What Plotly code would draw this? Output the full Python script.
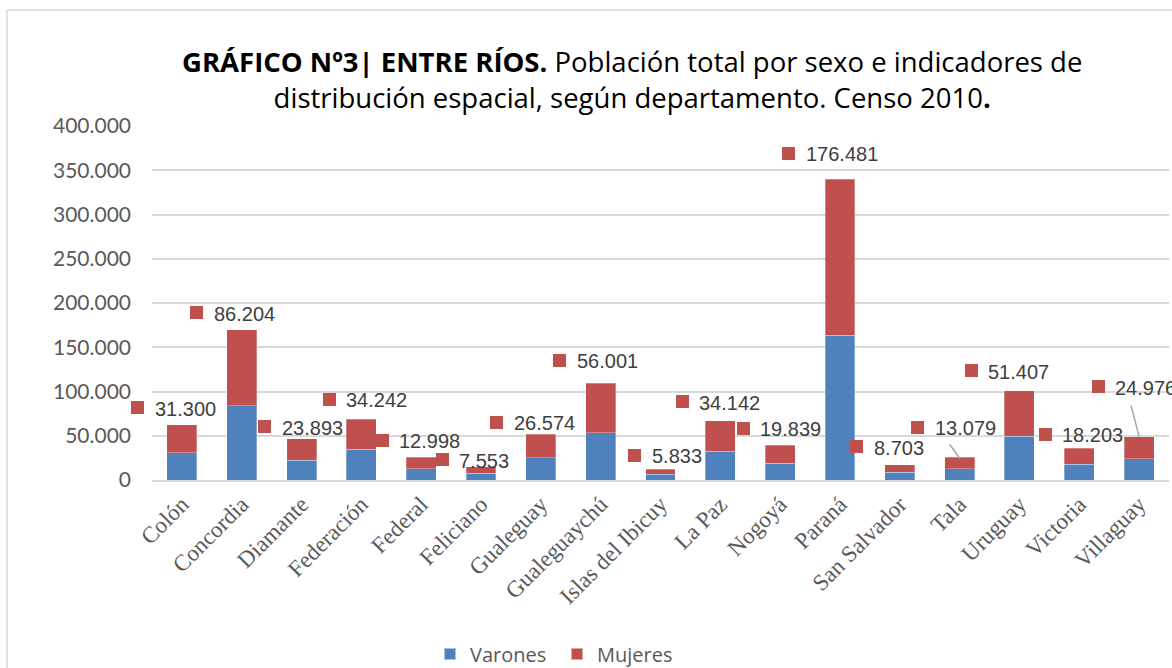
import plotly.graph_objects as go

departamentos = ["Colón", "Concordia", "Diamante", "Federación", "Federal", "Feliciano",
                 "Gualeguay", "Gualeguaychú", "Islas del Ibicuy", "La Paz", "Nogoyá",
                 "Paraná", "San Salvador", "Tala", "Uruguay", "Victoria", "Villaguay"]
varones = [30860, 83829, 22468, 34494, 12865, 7630, 25309, 53460, 6244, 32761, 19187,
           163449, 8654, 12586, 49321, 17564, 23989]
mujeres = [31300, 86204, 23893, 34242, 12998, 7553, 26574, 56001, 5833, 34142, 19839,
           176481, 8703, 13079, 51407, 18203, 24976]
y_ticks = [0, 50000, 100000, 150000, 200000, 250000, 300000, 350000, 400000]

# label placement (pixel offsets of the legend-key square relative to bar top)
label_dx = [-44, -45, -37, -32, -39, -39, -44, -41, -26, -38, -37, -51, -43, -42, -48, -34, -41]
label_dy = [17, 17, 12, 20, 17, 7, 12, 23, 14, 19, 17, 26, 18, 30, 20, 14, 50]
leaders = {13: (-10, 13, 0, -1), 16: (-8, 31, 0, 0)}

BLUE = "#4F81BD"
RED = "#C0504D"
GRID = "#D9D9D9"
TXT = "#595959"

W, H = 1172, 668
L, R, T, B = 152, 3, 126, 188
pw, ph = W - L - R, H - T - B

xs = list(range(len(departamentos)))
totals = [v + m for v, m in zip(varones, mujeres)]

fig = go.Figure()
fig.add_bar(x=xs, y=varones, name="Varones", marker=dict(color=BLUE, line=dict(color="rgba(255,255,255,0.5)", width=0.6)))
fig.add_bar(x=xs, y=mujeres, name="Mujeres", marker=dict(color=RED, line=dict(color="rgba(255,255,255,0.5)", width=0.6)))

shapes = []
annotations = []
for i, (tot, m) in enumerate(zip(totals, mujeres)):
    dx, dy = label_dx[i], label_dy[i]
    # legend-key square of the data label
    annotations.append(dict(x=i, y=tot, xref="x", yref="y", xanchor="center", yanchor="middle",
                            xshift=dx, yshift=dy, showarrow=False, text=" ",
                            width=13, height=13, bgcolor=RED, borderwidth=0, borderpad=0,
                            font=dict(size=8, color=RED)))
    annotations.append(dict(x=i, y=tot, xref="x", yref="y", xanchor="left", yanchor="middle",
                            xshift=dx + 15, yshift=dy - 1, showarrow=False,
                            text=f"{m:,}".replace(",", "."),
                            font=dict(family="Liberation Sans, Arial, sans-serif",
                                      size=20, color="#404040")))
for i, (x0, y0, x1, y1) in leaders.items():
    shapes.append(dict(type="line", xref="x", yref="y", xsizemode="pixel", ysizemode="pixel",
                       xanchor=i, yanchor=totals[i], x0=x0, y0=y0, x1=x1, y1=y1,
                       line=dict(color="#A6A6A6", width=1.5)))

# outer chart border
shapes.append(dict(type="rect", xref="paper", yref="paper",
                   x0=(7 - L) / pw, x1=(W + 20 - L) / pw,
                   y0=-(H + 20 - T - ph) / ph, y1=(T + ph - 10) / ph,
                   line=dict(color=GRID, width=1.5), fillcolor="rgba(0,0,0,0)", layer="below"))

annotations.append(dict(xref="paper", yref="paper", x=(632 - L) / pw, y=(T + ph - 79) / ph,
                        xanchor="center", yanchor="middle", showarrow=False, align="center",
                        text="<b>GRÁFICO Nº3| ENTRE RÍOS.</b> Población total por sexo e indicadores de<br>"
                             "distribución espacial, según departamento. Censo 2010<b>.</b>",
                        font=dict(family="Open Sans, Lato, sans-serif", size=27.5, color="#000000")))

fig.update_layout(
    width=W, height=H, margin=dict(l=L, r=R, t=T, b=B, autoexpand=False),
    paper_bgcolor="white", plot_bgcolor="white",
    barmode="stack", bargap=0.5, separators=",.",
    showlegend=True,
    legend=dict(orientation="h", traceorder="normal", x=(557 - L) / pw, xanchor="center",
                yref="paper", y=-(654 - T - ph) / ph, yanchor="middle",
                entrywidth=82, entrywidthmode="pixels",
                font=dict(family="Open Sans, Lato, sans-serif", size=20, color=TXT),
                itemsizing="constant"),
    xaxis=dict(range=[-0.5, len(departamentos) - 0.5], tickvals=xs, ticktext=departamentos,
               tickangle=-45, showgrid=False, showline=True, linecolor=GRID, linewidth=1.5,
               ticks="", automargin=False,
               tickfont=dict(family="Liberation Serif, Cambria, serif", size=23, color=TXT)),
    yaxis=dict(range=[0, 400000], tickvals=y_ticks, tickformat=",", showgrid=True, gridcolor=GRID,
               gridwidth=1.5, zeroline=False, showline=False, ticks="", automargin=False,
               ticklabelstandoff=20,
               tickfont=dict(family="Lato, Open Sans, sans-serif", size=21, color=TXT)),
    shapes=shapes, annotations=annotations,
)

fig.write_html("out.html", config={"displayModeBar": False},
               post_script="document.body.style.margin='0';document.body.style.overflow='hidden';")
